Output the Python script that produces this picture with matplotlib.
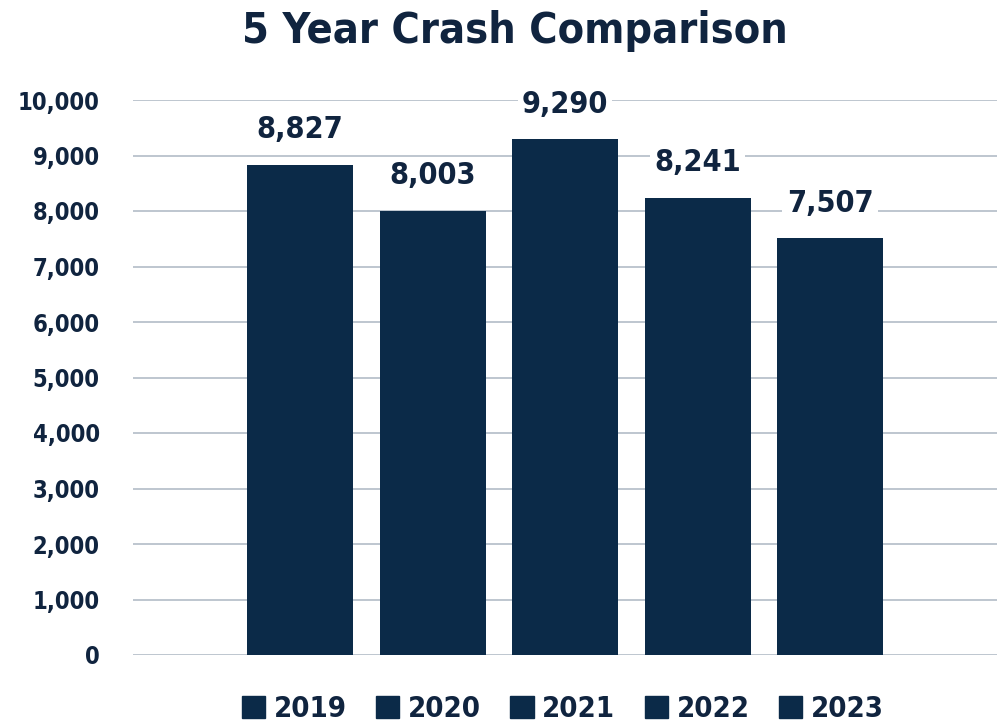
import matplotlib.pyplot as plt
import numpy as np

plt.rcParams['font.family'] = ['DejaVu Sans']
plt.rcParams['font.stretch'] = 'condensed'
plt.rcParams['font.weight'] = 'bold'

years = ['2019', '2020', '2021', '2022', '2023']
crashes = [8827, 8003, 9290, 8241, 7507]
yticks = [0, 1000, 2000, 3000, 4000, 5000, 6000, 7000, 8000, 9000, 10000]

navy = '#0b2a48'
text_col = '#10243f'
grid_col = '#b9c1cc'

fig = plt.figure(figsize=(10.05, 7.23), dpi=100)
ax = fig.add_axes([133/1005, 1-655/723, 864/1005, 555/723])

x = np.arange(len(years))
bars = ax.bar(x, crashes, width=0.8, color=navy, zorder=3)

half = 864/132.5/2
ax.set_xlim(2-half, 2+half)
ax.set_ylim(0, 10000)
ax.set_yticks(yticks)
ax.set_yticklabels([f'{v:,}' for v in yticks], fontsize=17, color=text_col)
ax.set_xticks([])
ax.tick_params(axis='y', length=0, pad=24)
ax.grid(axis='y', color=grid_col, linewidth=1.3, zorder=0)
for s in ax.spines.values():
    s.set_visible(False)

for xi, v in zip(x, crashes):
    ax.annotate(f'{v:,}', (xi, v), xytext=(0, 15), textcoords='offset points',
                ha='center', va='bottom', fontsize=22, color=text_col,
                bbox=dict(facecolor='white', edgecolor='none', pad=3), zorder=4)

fig.text(0.512, 0.957, '5 Year Crash Comparison', ha='center', va='center',
         fontsize=31, color=text_col, fontweight='bold')

handles = [plt.Rectangle((0, 0), 1, 1, color=navy) for _ in years]
leg = fig.legend(handles, years, loc='center', bbox_to_anchor=(0.56, 0.019),
                 ncol=5, frameon=False, fontsize=21, handlelength=0.8,
                 handleheight=0.8, handletextpad=0.3, columnspacing=1.0)
for t in leg.get_texts():
    t.set_color(text_col)

fig.savefig('out.png', dpi=100)
